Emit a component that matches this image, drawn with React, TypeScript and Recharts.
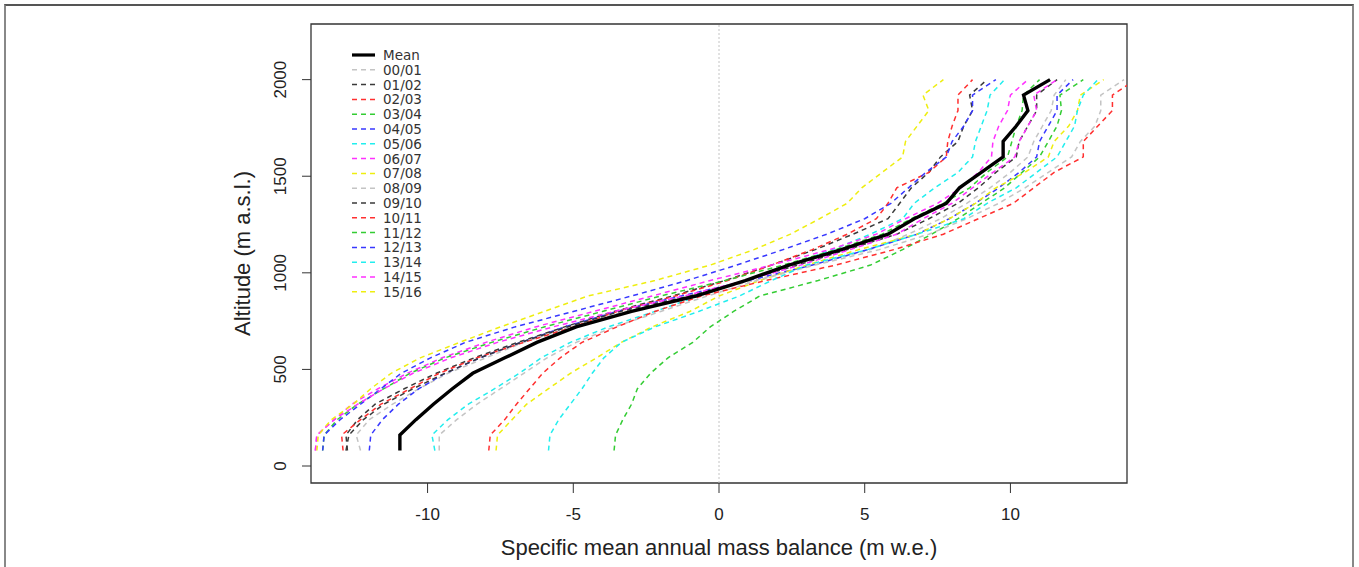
import { ScatterChart, Scatter, XAxis, YAxis, ReferenceLine, ReferenceArea, Label } from "recharts";

// altitude bands (m a.s.l.)
const altitudes = [
  80, 160, 240, 320, 400, 480, 560, 640, 720, 800, 880, 960, 1040,
  1120, 1200, 1280, 1360, 1440, 1520, 1600, 1680, 1760, 1840, 1920, 2000,
];

const mean = [-10.95, -10.95, -10.4, -9.8, -9.15, -8.45, -7.35, -6.25, -4.9, -3.0, -0.8, 0.9, 2.4, 4.2, 5.8, 6.7, 7.8, 8.25, 9.0, 9.75, 9.75, 10.2, 10.6, 10.45, 11.36];

const s0001 = [-12.3, -12.45, -12.0, -11.2, -10.3, -9.3, -8.0, -6.7, -5.1, -3.2, -1.0, 1.2, 3.2, 5.2, 6.5, 7.6, 8.5, 9.3, 10.0, 10.6, 10.8, 11.1, 11.4, 11.5, 11.9];
const s0102 = [-12.75, -12.8, -12.4, -11.8, -10.8, -9.7, -8.4, -6.9, -5.3, -3.6, -1.6, 0.2, 1.8, 3.3, 4.6, 5.8, 6.2, 6.6, 7.2, 7.6, 8.2, 8.4, 8.7, 8.6, 9.2];
const s0203 = [-12.9, -12.95, -12.3, -11.6, -10.6, -9.6, -8.3, -6.7, -5.0, -3.5, -1.5, 0.3, 1.8, 3.2, 4.4, 5.4, 5.8, 6.1, 7.2, 7.8, 7.85, 8.0, 8.2, 8.2, 8.7];
const s0304 = [-3.6, -3.55, -3.3, -3.0, -2.8, -2.35, -1.75, -0.9, -0.3, 0.5, 1.4, 3.4, 5.2, 6.3, 7.3, 8.2, 9.0, 9.8, 10.4, 11.0, 11.3, 11.6, 11.75, 11.7, 12.5];
const s0405 = [-12.0, -11.95, -11.55, -11.0, -10.3, -9.4, -8.2, -6.8, -5.3, -3.5, -1.3, 1.0, 3.2, 5.1, 6.8, 7.9, 8.8, 9.6, 10.3, 10.9, 11.0, 11.3, 11.6, 11.6, 12.15];
const s0506 = [-9.75, -9.85, -9.3, -8.6, -7.7, -6.85, -6.1, -5.1, -3.8, -2.2, -0.7, 0.9, 2.4, 3.9, 5.2, 6.3, 6.7, 7.4, 8.2, 8.7, 8.8, 9.0, 9.2, 9.3, 9.8];
const s0607 = [-13.85, -13.8, -13.2, -12.6, -11.7, -10.7, -9.5, -8.0, -6.3, -4.3, -2.3, -0.3, 1.8, 3.8, 5.4, 6.4, 7.5, 8.3, 8.9, 9.35, 9.4, 9.6, 9.9, 10.0, 10.6];
const s0708 = [-7.65, -7.6, -7.1, -6.6, -5.85, -5.1, -4.2, -3.35, -2.3, -1.0, 0.0, 1.4, 3.0, 4.8, 6.8, 7.9, 8.8, 9.5, 10.5, 11.3, 11.5, 12.0, 12.3, 12.4, 13.2];
const s0809 = [-9.6, -9.6, -9.0, -8.3, -7.5, -6.7, -5.9, -4.9, -3.6, -2.0, -0.4, 1.3, 3.3, 5.5, 7.2, 8.5, 9.6, 10.5, 11.3, 12.1, 12.4, 12.9, 13.1, 13.1, 13.9];
const s0910 = [-12.8, -12.7, -12.2, -11.5, -10.5, -9.4, -8.2, -6.8, -5.2, -3.4, -1.0, 0.9, 2.7, 4.4, 6.1, 7.2, 8.2, 8.9, 9.5, 10.2, 10.3, 10.6, 10.9, 10.9, 11.6];
const s1011 = [-7.9, -7.85, -7.35, -6.95, -6.5, -6.05, -5.45, -4.7, -3.5, -2.2, -0.6, 1.6, 4.0, 6.0, 7.7, 8.9, 10.1, 10.8, 11.5, 12.5, 12.5, 13.0, 13.5, 13.5, 14.3];
const s1112 = [-13.6, -13.55, -13.1, -12.4, -11.5, -10.6, -9.4, -7.8, -6.0, -4.0, -2.0, 0.2, 2.2, 4.0, 5.6, 6.6, 7.7, 8.6, 9.2, 9.9, 10.05, 10.2, 10.4, 10.45, 11.0];
const s1213 = [-13.6, -13.55, -13.0, -12.3, -11.6, -10.9, -9.9, -8.7, -7.0, -5.0, -3.0, -1.1, 0.6, 2.2, 3.7, 5.0, 5.9, 6.5, 7.1, 7.8, 8.0, 8.4, 8.7, 8.7, 9.5];
const s1314 = [-5.85, -5.8, -5.5, -5.1, -4.7, -4.35, -3.95, -3.35, -2.2, -0.7, 0.7, 1.8, 3.0, 5.1, 6.8, 8.4, 9.2, 10.2, 10.9, 11.6, 11.9, 12.2, 12.3, 12.5, 13.0];
const s1415 = [-13.85, -13.8, -13.2, -12.4, -11.5, -10.5, -9.2, -7.6, -5.7, -3.6, -1.2, 0.9, 2.8, 4.5, 6.1, 7.0, 8.0, 8.7, 9.4, 10.15, 10.3, 10.6, 10.9, 10.8, 11.6];
const s1516 = [-13.8, -13.75, -13.3, -12.55, -11.95, -11.25, -10.25, -8.9, -7.5, -6.0, -4.5, -2.2, -0.3, 1.2, 2.45, 3.45, 4.4, 4.9, 5.6, 6.3, 6.4, 6.8, 7.2, 7.0, 7.7];

const xTicks = [-10, -5, 0, 5, 10];
const yTicks = [0, 500, 1000, 1500, 2000];

const seasons = [
  { name: "00/01", color: "#c4c4c4", values: s0001 },
  { name: "01/02", color: "#3a3a3a", values: s0102 },
  { name: "02/03", color: "#ff3030", values: s0203 },
  { name: "03/04", color: "#33cc33", values: s0304 },
  { name: "04/05", color: "#3838ff", values: s0405 },
  { name: "05/06", color: "#22eeee", values: s0506 },
  { name: "06/07", color: "#ff30ff", values: s0607 },
  { name: "07/08", color: "#eeee10", values: s0708 },
  { name: "08/09", color: "#c4c4c4", values: s0809 },
  { name: "09/10", color: "#3a3a3a", values: s0910 },
  { name: "10/11", color: "#ff3030", values: s1011 },
  { name: "11/12", color: "#33cc33", values: s1112 },
  { name: "12/13", color: "#3838ff", values: s1213 },
  { name: "13/14", color: "#22eeee", values: s1314 },
  { name: "14/15", color: "#ff30ff", values: s1415 },
  { name: "15/16", color: "#eeee10", values: s1516 },
];

const toPoints = (values: number[]) => values.map((v, i) => ({ x: v, y: altitudes[i] }));

const noDot = () => null;
const axisFont = "'Liberation Sans', Arial, sans-serif";

const YTick = (props: any) => {
  const { x, y, payload } = props;
  return (
    <text
      x={x}
      y={y}
      transform={`rotate(-90 ${x} ${y})`}
      textAnchor="middle"
      fontSize={17}
      fill="#222"
      fontFamily={axisFont}
    >
      {payload.value}
    </text>
  );
};

const XTitle = (props: any) => {
  const vb = props.viewBox || { x: 311, y: 483, width: 816 };
  return (
    <text x={vb.x + vb.width / 2} y={vb.y + 72} textAnchor="middle" fontSize={22} fill="#222" fontFamily={axisFont}>
      Specific mean annual mass balance (m w.e.)
    </text>
  );
};

const YTitle = (props: any) => {
  const vb = props.viewBox || { x: 251, y: 24, height: 459 };
  const cx = vb.x - 1;
  const cy = vb.y + vb.height / 2;
  return (
    <text x={cx} y={cy} transform={`rotate(-90 ${cx} ${cy})`} textAnchor="middle" fontSize={22} fill="#222" fontFamily={axisFont}>
      Altitude (m a.s.l.)
    </text>
  );
};

const legendRows = [{ name: "Mean", color: "#000", values: mean }, ...seasons];

const LegendBox = () => (
  <svg width={1359} height={567} style={{ position: "absolute", left: 0, top: 0, pointerEvents: "none" }}>
    {legendRows.map((row, i) => {
      const y = 55 + i * 14.8;
      const isMean = i === 0;
      return (
        <g key={row.name}>
          <line
            x1={352}
            x2={375}
            y1={y}
            y2={y}
            stroke={row.color}
            strokeWidth={isMean ? 3.2 : 1.5}
            strokeDasharray={isMean ? undefined : "5 4"}
          />
          <text x={383} y={y + 5} fontSize={13.5} fill="#333" fontFamily="'DejaVu Sans', Verdana, sans-serif">
            {row.name}
          </text>
        </g>
      );
    })}
  </svg>
);

export default function App() {
  return (
    <div style={{ position: "fixed", left: 0, top: 0, width: 1359, height: 567, overflow: "hidden", background: "#fff" }}>
      <div
        style={{
          position: "absolute",
          left: 4,
          top: 4,
          width: 1346,
          height: 600,
          borderLeft: "2px solid #888",
          borderRight: "2px solid #888",
          borderTop: "2px solid #555",
        }}
      />
      <div style={{ position: "absolute", left: 0, top: 0 }}>
        <ScatterChart width={1359} height={567} margin={{ top: 24, right: 232, bottom: 44, left: 251 }}>
          <XAxis
            type="number"
            dataKey="x"
            domain={[-14, 14]}
            ticks={xTicks}
            interval={0}
            allowDataOverflow
            axisLine={false}
            tickLine={{ stroke: "#333" }}
            tickSize={10}
            tickMargin={15}
            height={40}
            tick={{ fontSize: 17, fill: "#222", fontFamily: axisFont }}
          >
            <Label content={XTitle} />
          </XAxis>
          <YAxis
            type="number"
            dataKey="y"
            domain={[-88, 2288]}
            ticks={yTicks}
            interval={0}
            allowDataOverflow
            axisLine={false}
            tickLine={{ stroke: "#333" }}
            tickSize={9}
            tickMargin={16}
            width={60}
            tick={<YTick />}
          >
            <Label content={YTitle} />
          </YAxis>
          <ReferenceLine x={0} stroke="#c4c4c4" strokeDasharray="2 2" strokeWidth={1} />
          {seasons.map((s) => (
            <Scatter
              key={s.name}
              name={s.name}
              data={toPoints(s.values)}
              shape={noDot}
              line={{ stroke: s.color, strokeWidth: 1.5, strokeDasharray: "5 4" }}
              lineType="joint"
              isAnimationActive={false}
            />
          ))}
          <Scatter
            name="Mean"
            data={toPoints(mean)}
            shape={noDot}
            line={{ stroke: "#000", strokeWidth: 3.4 }}
            lineType="joint"
            isAnimationActive={false}
          />
          <ReferenceArea x1={-14} x2={14} y1={-88} y2={2288} fill="none" stroke="#333" strokeWidth={1.3} />
        </ScatterChart>
      </div>
      <LegendBox />
    </div>
  );
}
